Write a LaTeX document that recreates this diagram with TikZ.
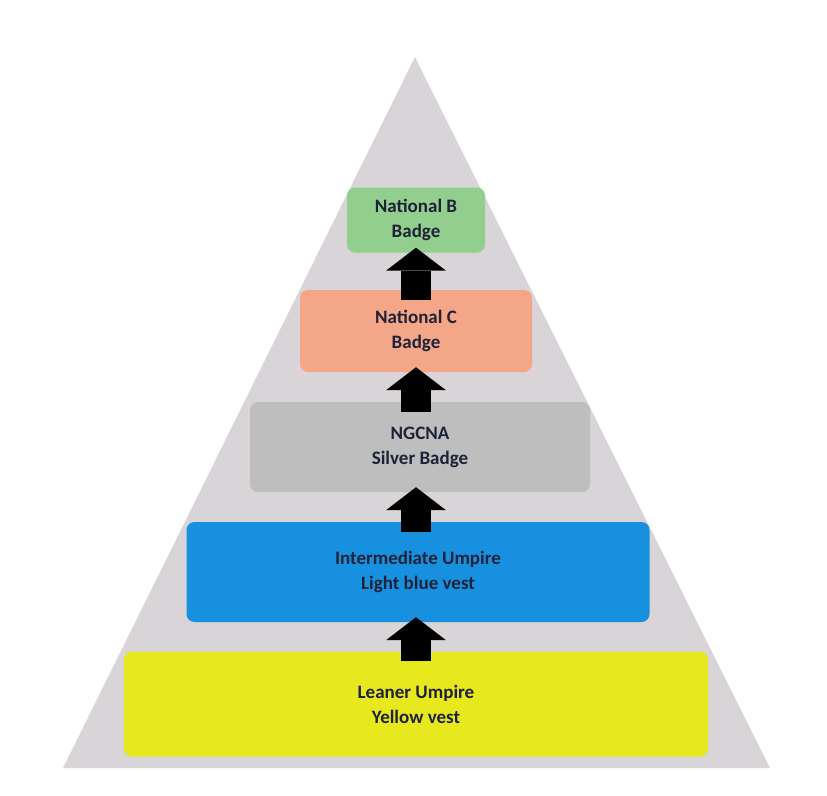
\documentclass[tikz,border=0pt]{standalone}
\usepackage{fontspec}
\setmainfont{Carlito}
\usetikzlibrary{arrows.meta}
\definecolor{pyrgray}{RGB}{216,212,216}
\definecolor{levelb}{RGB}{146,206,142}
\definecolor{levelc}{RGB}{244,166,136}
\definecolor{levelsilver}{RGB}{190,190,190}
\definecolor{levelinter}{RGB}{24,144,224}
\definecolor{levelleaner}{RGB}{232,232,30}
\definecolor{labeltext}{RGB}{30,34,56}

\begin{document}
\begin{tikzpicture}[x=1pt, y=-1pt,
	box/.style={rounded corners=8pt, align=center, text=labeltext, inner sep=0pt,
		font=\bfseries\fontsize{19}{25}\selectfont},
	uparrow/.style={black, line width=30pt, line cap=butt,
		-{Triangle[length=23pt, width=60pt, line width=0pt]}}]
	\useasboundingbox (0,0) rectangle (827,795);
	% pyramid
	\fill[pyrgray] (415,57) -- (770,768) -- (63,768) -- cycle;

	% levels, top to bottom
	\node[box, fill=levelb, minimum width=138pt, minimum height=65pt] (natb) at (416,220) {National B\\Badge};
	\node[box, fill=levelc, minimum width=232pt, minimum height=82pt] (natc) at (416,331) {National C\\Badge};
	\node[box, fill=levelsilver, minimum width=340pt, minimum height=90pt] (silver) at (420,447) {NGCNA\\Silver Badge};
	\node[box, fill=levelinter, minimum width=463pt, minimum height=100pt] (inter) at (418,572) {Intermediate Umpire\\Light blue vest};
	\node[box, fill=levelleaner, minimum width=584pt, minimum height=105pt] (leaner) at (416,704) {Leaner Umpire\\Yellow vest};

	\foreach \lo/\hi in {natc/natb, silver/natc, inter/silver, leaner/inter}
		\draw[uparrow] ([yshift=-10pt]\lo.north -| natb.south) -- ([yshift=5pt]\hi.south -| natb.south);
\end{tikzpicture}
\end{document}
